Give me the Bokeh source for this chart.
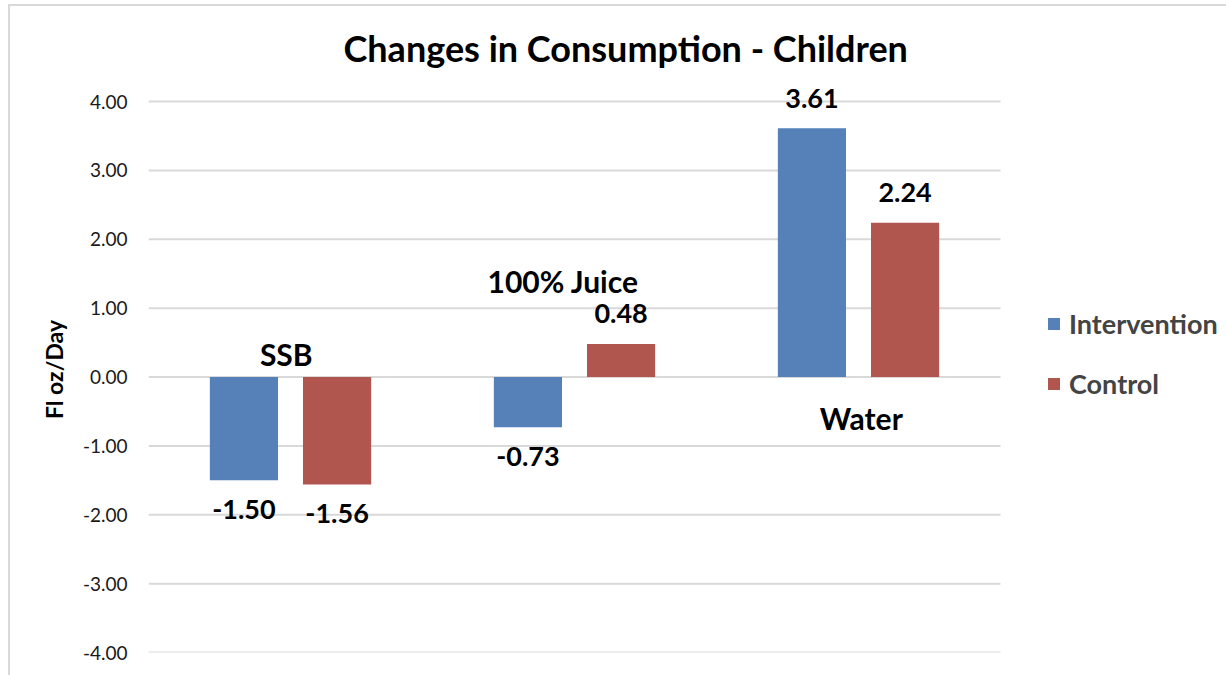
from bokeh.plotting import figure
from bokeh.models import ColumnDataSource, Range1d, Legend, LegendItem, FixedTicker, CustomJSTickFormatter
from bokeh.core.properties import value
from bokeh.embed import file_html
from bokeh.resources import INLINE

categories = ["SSB", "100% Juice", "Water"]
intervention = [-1.50, -0.73, 3.61]
control = [-1.56, 0.48, 2.24]
series_names = ["Intervention", "Control"]
y_ticks = [-4, -3, -2, -1, 0, 1, 2, 3, 4]
# anchor heights (data units) of the category captions, as placed in the original
cat_label_y = [0.33, 1.39, -0.59]

BLUE = "#5580B8"
RED = "#B1554F"
FONT = "Lato"
GRID = "#d9d9d9"

n = len(categories)
xc = [i + 0.5 for i in range(n)]          # category centres on the x scale
off = 0.164                               # half distance between paired bars
w = 0.24                                  # bar width (category units)

src = ColumnDataSource(dict(
    cat=categories,
    xi=[x - off for x in xc], xk=[x + off for x in xc],
    inter=intervention, ctrl=control,
    inter_lbl=[f"{v:.2f}" for v in intervention],
    ctrl_lbl=[f"{v:.2f}" for v in control],
))

# frame spans the category area plus the legend area to its right
p = figure(
    x_range=Range1d(0, n * 1078 / 852),
    y_range=Range1d(-4, 4.2178),
    frame_width=1078, frame_height=566,
    output_backend="svg", toolbar_location=None,
    min_border_left=138, min_border_right=0,
    min_border_top=80, min_border_bottom=23,
)
p.margin = (4, 0, 0, 8)
p.styles = {"border-left": "2px solid #d9d9d9", "border-top": "2px solid #d9d9d9"}

p.title.text = "Changes in Consumption - Children"
p.title.text_font = FONT
p.title.text_font_size = "36px"
p.title.text_font_style = "bold"
p.title.text_color = "black"
p.title.align = "left"
p.title.offset = 195
p.title.standoff = 34

# horizontal gridlines across the category area only
p.segment(x0=0, x1=n, y0=y_ticks, y1=y_ticks, line_color=GRID, line_width=2, level="underlay")

r1 = p.vbar(x="xi", top="inter", bottom=0, width=w, source=src,
            fill_color=BLUE, line_color=None)
r2 = p.vbar(x="xk", top="ctrl", bottom=0, width=w, source=src,
            fill_color=RED, line_color=None)

# value labels
def add_labels(xcol, col, lbl):
    vals = src.data[col]
    for sign, yoff in ((1, -30), (-1, 29)):
        idx = [i for i, v in enumerate(vals) if (v >= 0) == (sign > 0)]
        if not idx:
            continue
        s = ColumnDataSource(dict(x=[src.data[xcol][i] for i in idx],
                                  y=[vals[i] for i in idx],
                                  t=[src.data[lbl][i] for i in idx]))
        p.text(x="x", y="y", text="t", source=s,
               text_align="center", text_baseline="middle", y_offset=yoff,
               text_font=value(FONT), text_font_style="bold", text_font_size="27px",
               text_color="black")

add_labels("xi", "inter", "inter_lbl")
add_labels("xk", "ctrl", "ctrl_lbl")

# category captions
cap_dx = [-0.015, -0.04, 0.01]
cs = ColumnDataSource(dict(x=[x + d for x, d in zip(xc, cap_dx)], y=cat_label_y, t=categories))
p.text(x="x", y="y", text="t", source=cs,
       text_align="center", text_baseline="middle",
       text_font=value(FONT), text_font_style="bold", text_font_size="30px",
       text_color="black")

p.xaxis.visible = False
p.xgrid.visible = False
p.ygrid.visible = False
p.yaxis.ticker = FixedTicker(ticks=y_ticks)
p.yaxis.formatter = CustomJSTickFormatter(code="return tick.toFixed(2);")
p.yaxis.axis_line_color = None
p.yaxis.major_tick_line_color = None
p.yaxis.minor_tick_line_color = None
p.yaxis.major_label_text_font = FONT
p.yaxis.major_label_text_font_size = "19px"
p.yaxis.major_label_text_color = "#1a1a1a"
p.yaxis.major_label_standoff = 15
p.yaxis.axis_label = "Fl oz/Day"
p.yaxis.axis_label_text_font = FONT
p.yaxis.axis_label_text_font_style = "bold"
p.yaxis.axis_label_text_font_size = "23px"
p.yaxis.axis_label_text_color = "black"
p.yaxis.axis_label_standoff = 12
p.outline_line_color = None

legend = Legend(items=[LegendItem(label=series_names[0], renderers=[r1]),
                       LegendItem(label=series_names[1], renderers=[r2])],
                location=(898, 252), orientation="vertical")
legend.border_line_color = None
legend.background_fill_alpha = 0
legend.padding = 0
legend.margin = 0
legend.spacing = 27
legend.glyph_width = 15
legend.glyph_height = 15
legend.label_height = 20
legend.label_standoff = 8
legend.label_text_font = FONT
legend.label_text_font_style = "bold"
legend.label_text_font_size = "27px"
p.add_layout(legend, "center")

open("out.html", "w").write(file_html(p, INLINE))
